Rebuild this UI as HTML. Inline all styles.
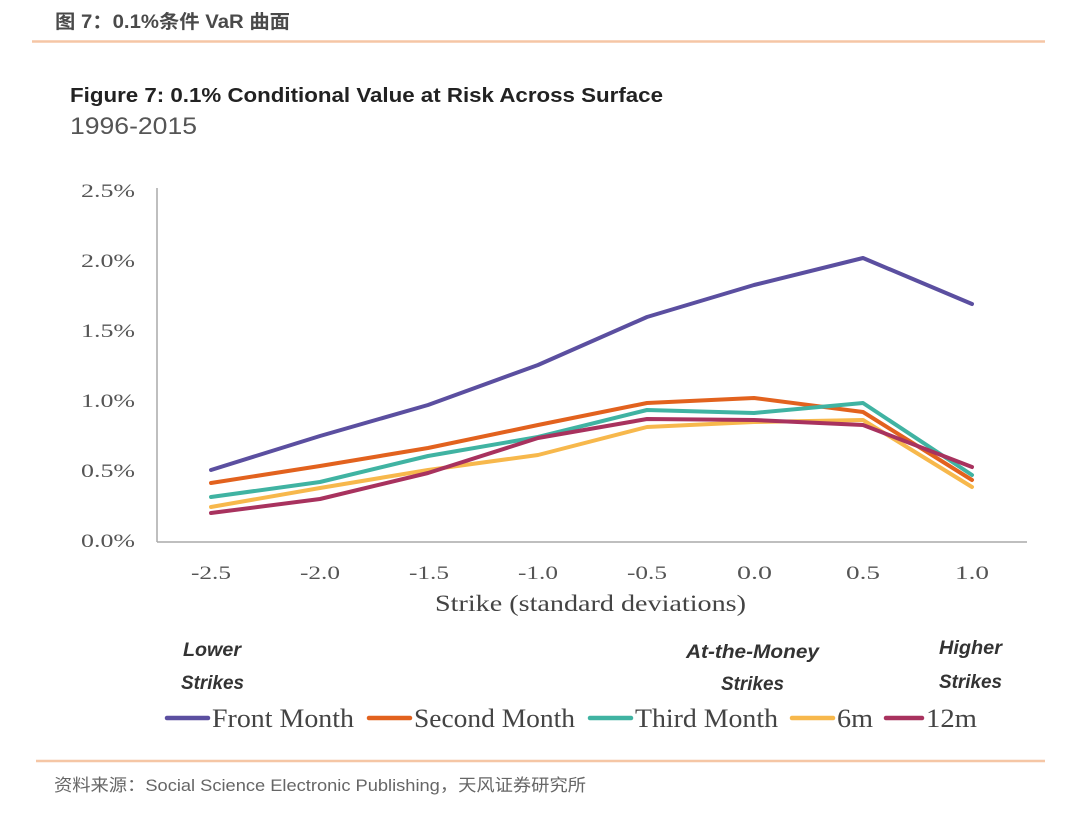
<!DOCTYPE html>
<html>
<head>
<meta charset="utf-8">
<style>
  html,body{margin:0;padding:0;background:#fff;}
  svg{display:block;}
</style>
</head>
<body>
<svg width="1080" height="825" viewBox="0 0 1080 825" xmlns="http://www.w3.org/2000/svg">
  <rect width="1080" height="825" fill="#fff"/>
  <!-- header -->
  <text x="55" y="28" font-family="'Liberation Sans','Noto Sans CJK SC',sans-serif" font-size="19" font-weight="bold" fill="#4a4a4a" textLength="235" lengthAdjust="spacingAndGlyphs">图 7：0.1%条件 VaR 曲面</text>
  <line x1="32" y1="41.5" x2="1045" y2="41.5" stroke="#f5c6a5" stroke-width="2.5"/>

  <!-- title -->
  <text x="70" y="102" font-family="'Liberation Sans',sans-serif" font-size="20" font-weight="bold" fill="#222" textLength="593" lengthAdjust="spacingAndGlyphs">Figure 7: 0.1% Conditional Value at Risk Across Surface</text>
  <text x="70" y="134" font-family="'Liberation Sans',sans-serif" font-size="24" fill="#555" textLength="127" lengthAdjust="spacingAndGlyphs">1996-2015</text>

  <!-- axes -->
  <line x1="157" y1="188" x2="157" y2="542" stroke="#aaa" stroke-width="1.5"/>
  <line x1="157" y1="542" x2="1027" y2="542" stroke="#aaa" stroke-width="1.5"/>

  <!-- y labels -->
  <g font-family="'Liberation Serif',serif" font-size="19" fill="#555">
    <text x="81" y="197" textLength="54" lengthAdjust="spacingAndGlyphs">2.5%</text>
    <text x="81" y="267" textLength="54" lengthAdjust="spacingAndGlyphs">2.0%</text>
    <text x="81" y="337" textLength="54" lengthAdjust="spacingAndGlyphs">1.5%</text>
    <text x="81" y="407" textLength="54" lengthAdjust="spacingAndGlyphs">1.0%</text>
    <text x="81" y="477" textLength="54" lengthAdjust="spacingAndGlyphs">0.5%</text>
    <text x="81" y="547" textLength="54" lengthAdjust="spacingAndGlyphs">0.0%</text>
  </g>

  <!-- x labels -->
  <g font-family="'Liberation Serif',serif" font-size="19" fill="#555">
    <text x="191" y="579" textLength="40" lengthAdjust="spacingAndGlyphs">-2.5</text>
    <text x="300" y="579" textLength="40" lengthAdjust="spacingAndGlyphs">-2.0</text>
    <text x="409" y="579" textLength="40" lengthAdjust="spacingAndGlyphs">-1.5</text>
    <text x="518" y="579" textLength="40" lengthAdjust="spacingAndGlyphs">-1.0</text>
    <text x="627" y="579" textLength="40" lengthAdjust="spacingAndGlyphs">-0.5</text>
    <text x="737" y="579" textLength="35" lengthAdjust="spacingAndGlyphs">0.0</text>
    <text x="846" y="579" textLength="34" lengthAdjust="spacingAndGlyphs">0.5</text>
    <text x="955" y="579" textLength="34" lengthAdjust="spacingAndGlyphs">1.0</text>
  </g>
  <text x="435" y="611" font-family="'Liberation Serif',serif" font-size="23" fill="#444" textLength="311" lengthAdjust="spacingAndGlyphs">Strike (standard deviations)</text>

  <!-- series -->
  <g fill="none" stroke-width="4" stroke-linejoin="round" stroke-linecap="round">
    <polyline stroke="#5b4fa0" points="211,470 320,436 428,405 538,365 647,317 754,285 863,258 972,304"/>
    <polyline stroke="#e2621e" points="211,483 320,466 428,448 538,425 647,403 754,398 863,412 972,480"/>
    <polyline stroke="#40b3a2" points="211,497 320,482 428,456 538,437 647,410 754,413 863,403 972,475"/>
    <polyline stroke="#f7b84c" points="211,507 320,488 428,470 538,455 647,427 754,422 863,420 972,487"/>
    <polyline stroke="#a8325e" points="211,513 320,499 428,473 538,438 647,419 754,420 863,425 972,467"/>
  </g>

  <!-- annotations -->
  <g font-family="'Liberation Sans',sans-serif" font-size="19" font-style="italic" font-weight="bold" fill="#333">
    <text x="183" y="656" textLength="58" lengthAdjust="spacingAndGlyphs">Lower</text>
    <text x="181" y="689" textLength="63" lengthAdjust="spacingAndGlyphs">Strikes</text>
    <text x="686" y="658" textLength="133" lengthAdjust="spacingAndGlyphs">At-the-Money</text>
    <text x="721" y="690" textLength="63" lengthAdjust="spacingAndGlyphs">Strikes</text>
    <text x="939" y="654" textLength="63" lengthAdjust="spacingAndGlyphs">Higher</text>
    <text x="939" y="688" textLength="63" lengthAdjust="spacingAndGlyphs">Strikes</text>
  </g>

  <!-- legend -->
  <g stroke-width="4.5" stroke-linecap="round">
    <line x1="167" y1="718" x2="208" y2="718" stroke="#5b4fa0"/>
    <line x1="369" y1="718" x2="410" y2="718" stroke="#e2621e"/>
    <line x1="590" y1="718" x2="631" y2="718" stroke="#40b3a2"/>
    <line x1="792" y1="718" x2="833" y2="718" stroke="#f7b84c"/>
    <line x1="886" y1="718" x2="922" y2="718" stroke="#a8325e"/>
  </g>
  <g font-family="'Liberation Serif',serif" font-size="26" fill="#444">
    <text x="212" y="727" textLength="142" lengthAdjust="spacingAndGlyphs">Front Month</text>
    <text x="414" y="727" textLength="161" lengthAdjust="spacingAndGlyphs">Second Month</text>
    <text x="635" y="727" textLength="143" lengthAdjust="spacingAndGlyphs">Third Month</text>
    <text x="837" y="727" textLength="36" lengthAdjust="spacingAndGlyphs">6m</text>
    <text x="926" y="727" textLength="51" lengthAdjust="spacingAndGlyphs">12m</text>
  </g>

  <!-- footer -->
  <line x1="36" y1="761" x2="1045" y2="761" stroke="#f5c6a5" stroke-width="2.5"/>
  <text x="54" y="791" font-family="'Liberation Sans','Noto Sans CJK SC',sans-serif" font-size="17" fill="#666" textLength="532" lengthAdjust="spacingAndGlyphs">资料来源：Social Science Electronic Publishing，天风证券研究所</text>
</svg>
</body>
</html>
